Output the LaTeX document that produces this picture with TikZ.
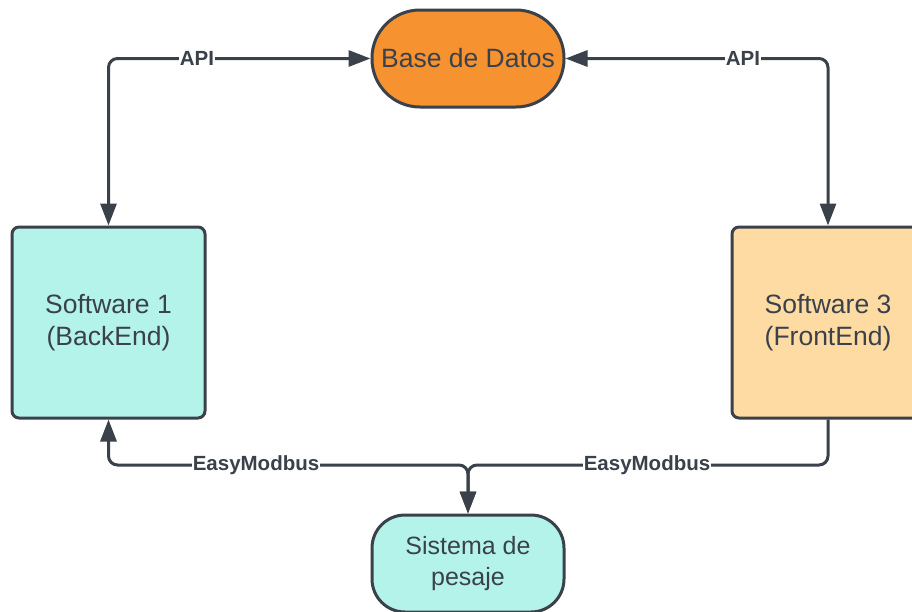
\documentclass[tikz,border=0pt]{standalone}
\usepackage{fontspec}
\setmainfont{Liberation Sans}
\usetikzlibrary{arrows.meta}
\definecolor{ink}{RGB}{58,65,74}
\definecolor{dbfill}{RGB}{247,146,48}
\definecolor{tealfill}{RGB}{180,243,234}
\definecolor{peachfill}{RGB}{253,219,163}
\begin{document}
\begin{tikzpicture}[x=1pt,y=-1pt,
  box/.style={draw=ink, line width=3pt, text=ink, align=center,
    font=\fontsize{26.5}{32}\selectfont, inner sep=0pt},
  conn/.style={draw=ink, line width=3pt, rounded corners=9pt,
    >={Triangle[length=22pt,width=16pt]}},
  lbl/.style={fill=white, text=ink, inner sep=1pt,
    font=\fontsize{20.5}{22}\selectfont\bfseries}]
\useasboundingbox (0,0) rectangle (912,611);
\fill[white] (0,0) rectangle (912,611);

% nodes
\node[box, fill=dbfill, rounded corners=48pt, minimum width=192pt,
  minimum height=97pt] (db) at (468,58.5) {Base de Datos};
\node[box, fill=tealfill, rounded corners=7pt, minimum width=193pt,
  minimum height=191pt] (be) at (108.5,322.5) {Software 1\\(BackEnd)};
\node[box, fill=peachfill, rounded corners=7pt, minimum width=192pt,
  minimum height=191pt] (fe) at (828,322.5) {Software 3\\(FrontEnd)};
\node[box, fill=tealfill, rounded corners=33pt, minimum width=192pt,
  minimum height=97pt, font=\fontsize{25}{31}\selectfont] (ws) at (468,563.5) {Sistema de\\pesaje};

\coordinate (bus) at (468,465);

% connectors
\draw[conn, <->] (be.north) |- (db.west);
\draw[conn, <->] (db.east) -| (fe.north);
\draw[conn, ->] (fe.south) |- (bus) -- (ws.north);
\draw[conn, <->] (be.south) |- (bus) -- (ws.north);

% connector labels
\node[lbl] (api1) at (197,58) {API};
\node[lbl] (api2) at (743,58) {API};
\node[lbl] (em1) at (256,465) {EasyModbus};
\node[lbl] (em2) at (647,465) {EasyModbus};
\end{tikzpicture}
\end{document}
